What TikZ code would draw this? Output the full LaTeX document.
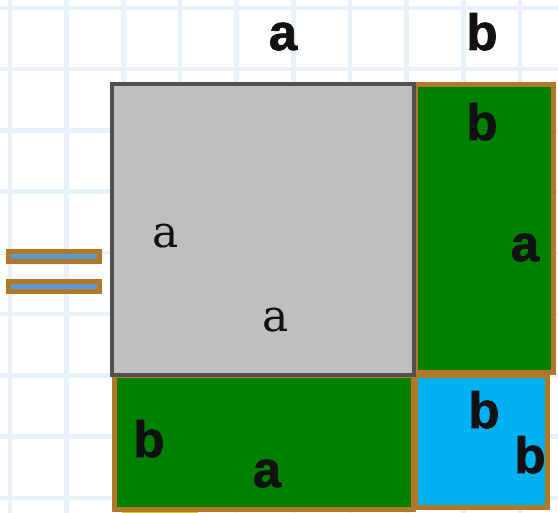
\documentclass[tikz,border=0pt]{standalone}
\usepackage{fontspec}
\newfontfamily\lblfont[BoldFeatures={FakeBold=1.3}]{Liberation Sans}
\newfontfamily\serffont{DejaVu Serif}
\begin{document}
\begin{tikzpicture}[x=1pt,y=-1pt,
  gridline/.style={draw=gridblue,line width=4.5pt},
  brownbox/.style={draw=boxbrown,line width=5pt},
  boldlbl/.style={font=\lblfont\bfseries\fontsize{51}{51}\selectfont,text=lblblack,anchor=base,inner sep=0pt},
  serflbl/.style={font=\serffont\fontsize{44}{44}\selectfont,text=lblblack,anchor=base,inner sep=0pt}]
\definecolor{gridblue}{HTML}{E9F1FC}
\definecolor{boxbrown}{HTML}{B07828}
\definecolor{sqgreen}{HTML}{008000}
\definecolor{sqblue}{HTML}{00B0F0}
\definecolor{sqgray}{HTML}{C0BEBE}
\definecolor{edgegray}{HTML}{505050}
\definecolor{barblue}{HTML}{5B9BD5}
\definecolor{lblblack}{HTML}{111111}
\definecolor{ygreen}{HTML}{C8D800}
\useasboundingbox (0,0) rectangle (558,513);
\fill[white] (0,0) rectangle (558,513);
% grid
\foreach \k in {0,...,9} \draw[gridline] ({10+56.67*\k},0) -- ({10+56.67*\k},513);
\foreach \k in {0,...,8} \draw[gridline] (0,{8+61.25*\k}) -- (558,{8+61.25*\k});
% equals sign
\draw[brownbox,fill=barblue] (8.5,251.5) rectangle (99.5,261.5);
\draw[brownbox,fill=barblue] (8.5,281.5) rectangle (99.5,291.5);
% small strip at bottom
\fill[ygreen] (122,509) rectangle (198,513);
% rectangles
\draw[brownbox,fill=sqgreen] (415.5,84.5) rectangle (553.5,372.5);
\draw[brownbox,fill=sqgreen] (114.5,375.5) rectangle (413.5,509.5);
\draw[brownbox,fill=sqblue] (415.5,375.5) rectangle (547.5,507.5);
\fill[black!35,opacity=0.5] (114,86) rectangle (416,377);
\draw[draw=edgegray,line width=4pt,fill=sqgray] (112,84) rectangle (414,375);
% labels
\node[boldlbl] (ta) at (283,50) {a};
\node[boldlbl] (tb) at (482,50) {b};
\node[boldlbl] (rb) at (482,140) {b};
\node[boldlbl] (ra) at (525,261) {a};
\node[serflbl] (ga1) at (166,248) {a};
\node[serflbl] (ga2) at (276,332) {a};
\node[boldlbl] (bb) at (149,457) {b};
\node[boldlbl] (ba) at (267,487) {a};
\node[boldlbl] (qb1) at (484,428) {b};
\node[boldlbl] (qb2) at (530,473) {b};
\end{tikzpicture}
\end{document}
